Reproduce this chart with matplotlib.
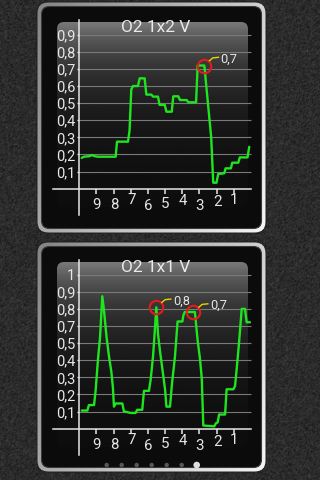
import numpy as np
import matplotlib
matplotlib.use("Agg")
import matplotlib.pyplot as plt
from matplotlib.patches import FancyBboxPatch, Circle
from matplotlib.lines import Line2D
from matplotlib.transforms import IdentityTransform

# ---------------- data ----------------
seconds = [9, 8, 7, 6, 5, 4, 3, 2, 1]

o2_12_title = "O2 1x2 V"
o2_12_t = [9.86, 9.73, 9.40, 9.26, 9.11, 8.91, 7.88, 7.80, 7.16, 7.07, 6.97, 6.87,
           6.58, 6.48, 6.19, 6.09, 5.80, 5.70, 5.41, 5.32, 5.02, 4.92, 4.61, 4.52,
           4.23, 4.13, 3.74, 3.64, 3.19, 3.10, 2.71, 2.31, 2.19, 2.00, 1.90, 1.55,
           1.47, 1.16, 1.08, 0.73, 0.64, 0.19, 0.09]
o2_12_v = [0.18, 0.187, 0.19, 0.197, 0.19, 0.187, 0.187, 0.275, 0.275, 0.34, 0.58, 0.60,
           0.60, 0.645, 0.645, 0.55, 0.55, 0.538, 0.538, 0.49, 0.49, 0.45, 0.45, 0.54,
           0.54, 0.518, 0.518, 0.505, 0.505, 0.72, 0.72, 0.30, 0.035, 0.035, 0.086, 0.09,
           0.119, 0.119, 0.152, 0.152, 0.183, 0.183, 0.245]
o2_12_mark_t = [2.73]
o2_12_mark_v = [0.72]
o2_12_step = 0.1

o2_11_title = "O2 1x1 V"
o2_11_t = [9.86, 9.53, 9.44, 9.14, 9.05, 8.91, 8.79, 8.66, 8.56, 8.41, 8.27, 8.13,
           8.04, 7.98, 7.88, 7.49, 7.40, 7.01, 6.72, 6.62, 6.33, 6.23, 5.94, 5.84,
           5.70, 5.61, 5.51, 5.41, 5.28, 5.00, 4.92, 4.71, 4.61, 4.42, 4.27, 3.99,
           3.93, 3.85, 3.26, 3.10, 2.96, 2.86, 2.77, 2.13, 2.03, 1.93, 1.85, 1.50,
           1.41, 1.02, 0.92, 0.83, 0.69, 0.53, 0.34, 0.24, 0.05]
o2_11_v = [0.115, 0.115, 0.15, 0.15, 0.24, 0.44, 0.58, 0.84, 0.75, 0.58, 0.46, 0.36,
           0.26, 0.14, 0.16, 0.16, 0.11, 0.10, 0.10, 0.12, 0.12, 0.24, 0.24, 0.31,
           0.46, 0.60, 0.77, 0.60, 0.48, 0.25, 0.14, 0.14, 0.27, 0.46, 0.68, 0.68,
           0.72, 0.74, 0.74, 0.56, 0.44, 0.32, 0.02, 0.015, 0.035, 0.04, 0.09, 0.09,
           0.25, 0.25, 0.27, 0.37, 0.54, 0.76, 0.76, 0.675, 0.675]
o2_11_mark_t = [5.51, 3.35]
o2_11_mark_v = [0.77, 0.74]
o2_11_step = 0.1085

page_count = 7
page_current = 6

# ---------------- layout ----------------
W, H = 320, 480
PX_PER_SEC = 17.15      # horizontal pixels per second
X_ZERO = 250.8          # pixel column of t = 0
GRID_PX = 17.11         # pixels between grid lines
NARROW = ["Liberation Sans Narrow", "Roboto", "DejaVu Sans"]
TXT = "#e6e6e6"
x_label_drop = [16.3, 16.3, 11.3, 17.0, 15.0, 12.3, 17.3, 13.3, 11.3]

fig = plt.figure(figsize=(W / 100, H / 100), dpi=100)
bg = fig.add_axes([0, 0, 1, 1], zorder=0)
bg.set_autoscale_on(False)
bg.set_xlim(0, W)
bg.set_ylim(H, 0)
bg.axis("off")

# grainy dark backdrop
rng = np.random.default_rng(11)
grain = rng.normal(0.0, 1.0, (H, W))
grain = (grain + np.roll(grain, 1, 0) + np.roll(grain, 1, 1)) / 3
backdrop = 0.17 + 0.04 * grain
bg.imshow(backdrop, extent=(0, W, H, 0), cmap="gray", vmin=0, vmax=1,
          aspect="auto", zorder=0, interpolation="nearest")


def fmt(val):
    s = f"{val:.1f}".replace(".", ",")
    return s[:-2] if s.endswith(",0") else s


def draw_panel(top, bottom):
    outer = FancyBboxPatch((37, top), 229, bottom - top,
                           boxstyle="round,pad=0,rounding_size=11",
                           fc="none", ec="#1e1e1e", lw=0.7, zorder=2)
    bg.add_patch(outer)
    yy, xx = np.mgrid[0:1:120j, 0:1:120j]
    metal = 0.52 + 0.30 * xx + 0.14 * yy
    im = bg.imshow(metal, extent=(37, 266, bottom, top), cmap="gray", vmin=0, vmax=1,
                   zorder=1, aspect="auto", interpolation="bilinear")
    im.set_clip_path(outer)
    inner = FancyBboxPatch((41.5, top + 4.5), 220, bottom - top - 9,
                           boxstyle="round,pad=0,rounding_size=8",
                           fc="#0b0b0b", ec="#3a3a3a", lw=0.8, zorder=3)
    bg.add_patch(inner)
    plate = FancyBboxPatch((57, top + 20), 191, 185,
                           boxstyle="round,pad=0,rounding_size=7",
                           fc="none", ec="none", zorder=4)
    bg.add_patch(plate)
    rows = np.linspace(0, 185, 200)
    shade = 0.045 + 0.43 * np.exp(-rows / 47)
    im2 = bg.imshow(shade[:, None] * np.ones((1, 4)), extent=(57, 248, top + 205, top + 20),
                    cmap="gray", vmin=0, vmax=1, zorder=4, aspect="auto",
                    interpolation="bilinear")
    im2.set_clip_path(plate)


def draw_chart(y_off, step, title, t, v, mark_t, mark_v):
    y0 = 188.7 + y_off
    ppu = GRID_PX / step
    L, R, T, B = 48, 254, y_off + 14, y_off + 220
    ax = fig.add_axes([L / W, 1 - B / H, (R - L) / W, (B - T) / H], zorder=2)
    ax.set_xlim((X_ZERO - L) / PX_PER_SEC, (X_ZERO - R) / PX_PER_SEC)
    ax.set_ylim((y0 - B) / ppu, (y0 - T) / ppu)
    ax.patch.set_visible(False)

    ticks = [step * k for k in range(1, 10)]
    ax.hlines(ticks, 10, 0, colors="#7a7a7a", lw=0.8, zorder=1)

    for s in ("top", "right"):
        ax.spines[s].set_visible(False)
    ax.spines["left"].set_position(("data", 10))
    ax.spines["left"].set_bounds((y0 - (y_off + 215)) / ppu, (y0 - (y_off + 20)) / ppu)
    ax.spines["bottom"].set_position(("data", 0))
    ax.spines["bottom"].set_bounds((X_ZERO - 52.7) / PX_PER_SEC, (X_ZERO - 250.5) / PX_PER_SEC)
    for s in ("left", "bottom"):
        ax.spines[s].set_color(TXT)
        ax.spines[s].set_linewidth(1.1)
        ax.spines[s].set_zorder(2)

    ax.set_yticks(ticks, [fmt(x) for x in ticks])
    ax.tick_params(axis="y", length=1.8, width=1.0, color=TXT, pad=1,
                   labelsize=10.5, labelcolor=TXT)
    for lbl in ax.get_yticklabels():
        lbl.set_fontfamily(NARROW)
    ax.set_xticks(seconds, [""] * len(seconds))
    ax.tick_params(axis="x", length=3.8, width=1.1, color=TXT, pad=0)
    for k, s in enumerate(seconds):
        ax.annotate(str(s), xy=(s, 0), xytext=(0.5, -x_label_drop[k]),
                    textcoords="offset pixels", ha="center", va="center",
                    fontsize=10.8, color=TXT, family=NARROW)

    ax.plot(t, v, color="#1fe51f", lw=1.7, zorder=3, solid_joinstyle="round",
            solid_capstyle="round")

    ax.plot(mark_t, mark_v, "o", ms=9.7, mfc="none", mec="#e31b1b", mew=1.5, zorder=4)
    for mt, mv in zip(mark_t, mark_v):
        cx, cy = ax.transData.transform((mt, mv))
        fig.add_artist(Line2D([cx + 5.5, cx + 8.8, cx + 14.5],
                              [cy + 4.8, cy + 7.6, cy + 8.2],
                              transform=IdentityTransform(), color="#e8d400",
                              lw=1.0, zorder=5))
        ax.annotate(fmt(mv), xy=(mt, mv), xytext=(16.5, 6.3), textcoords="offset pixels",
                    ha="left", va="center", fontsize=9.2, color=TXT, family=NARROW,
                    zorder=5)

    bg.text(155.5, y_off + 27.5, title, ha="center", va="center", fontsize=12.5,
            color="#ebebeb", family=["Roboto", "DejaVu Sans"], zorder=6)


draw_panel(2, 233)
draw_panel(242, 472)
draw_chart(0, o2_12_step, o2_12_title, o2_12_t, o2_12_v, o2_12_mark_t, o2_12_mark_v)
draw_chart(240, o2_11_step, o2_11_title, o2_11_t, o2_11_v, o2_11_mark_t, o2_11_mark_v)

# page indicator
for k in range(page_count):
    cur = k == page_current
    bg.add_patch(Circle((106.7 + 15 * k, 465), 3.3 if cur else 2.2,
                        fc="#dedede" if cur else "#575757", ec="none", zorder=6))

fig.savefig("out.png", dpi=100)
